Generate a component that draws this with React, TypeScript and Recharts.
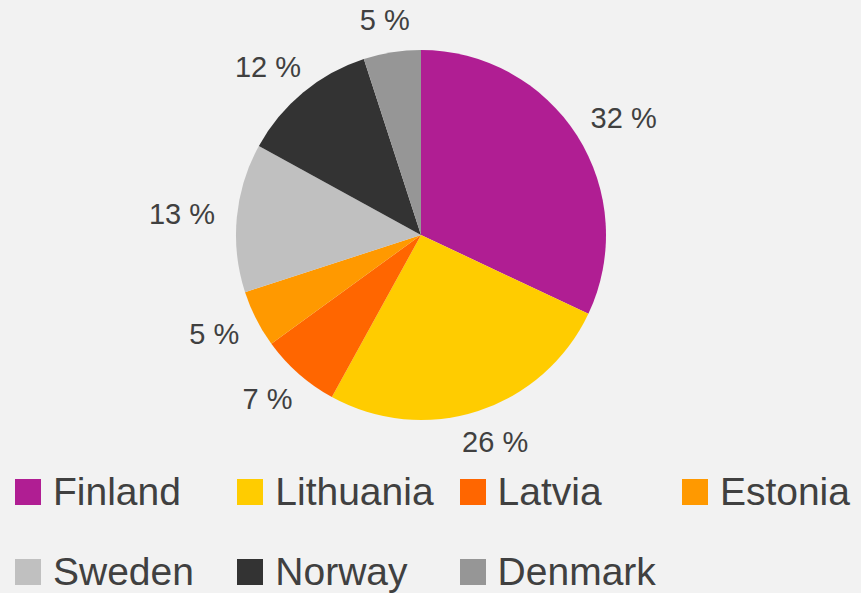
import React from 'react'
import { PieChart, Pie, Cell, Legend } from 'recharts'

const countries = ['Finland', 'Lithuania', 'Latvia', 'Estonia', 'Sweden', 'Norway', 'Denmark']
const shares = [32, 26, 7, 5, 13, 12, 5]
const colors = ['#b01e93', '#ffcc00', '#ff6600', '#ff9900', '#c0c0c0', '#333333', '#969696']

const data = countries.map((name, i) => ({ name, value: shares[i] }))

const RAD = Math.PI / 180
const FONT = '"Liberation Sans", Arial, sans-serif'
const TEXT = '#404040'
const LABEL_SIZE = 29

// label box sits just outside the pie, pushed out by half its own size
const renderLabel = (props: any) => {
  const { cx, cy, midAngle, outerRadius, value } = props
  const txt = `${value} %`
  const w = LABEL_SIZE * (0.556 * String(value).length + 0.278 + 0.889)
  const h = 22
  const cos = Math.cos(-midAngle * RAD)
  const sin = Math.sin(-midAngle * RAD)
  const r0 = outerRadius + 22
  const x = cx + (r0 + w / 2) * cos
  const y = cy + (r0 + h / 2) * sin
  return (
    <text x={x} y={y + 10} textAnchor="middle" fill={TEXT} fontSize={LABEL_SIZE} fontFamily={FONT}>
      {txt}
    </text>
  )
}

const renderLegend = () => (
  <div style={{ display: 'flex', flexWrap: 'wrap', paddingLeft: 15, width: 4 * 222.3 }}>
    {countries.map((name, i) => (
      <div key={name} style={{ position: 'relative', width: 222.3, height: 80 }}>
        <div style={{ position: 'absolute', left: 0, top: 19, width: 26, height: 26, background: colors[i] }} />
        <span style={{
          position: 'absolute', left: 38, top: 11.8, fontSize: 39, lineHeight: '39px',
          fontFamily: FONT, color: TEXT, whiteSpace: 'nowrap',
        }}>
          {name}
        </span>
      </div>
    ))}
  </div>
)

export default function App() {
  return (
    <div style={{ width: 861, height: 593, background: '#f2f2f2', overflow: 'hidden' }}>
      <style>{'body{margin:0}'}</style>
      <PieChart width={861} height={593} margin={{ top: 0, right: 0, bottom: 0, left: 0 }}>
        <Pie
          data={data}
          dataKey="value"
          nameKey="name"
          cx={421}
          cy={235}
          outerRadius={185}
          startAngle={90}
          endAngle={-270}
          stroke="none"
          label={renderLabel}
          labelLine={false}
          isAnimationActive={false}
        >
          {data.map((d, i) => (
            <Cell key={d.name} fill={colors[i]} />
          ))}
        </Pie>
        <Legend
          content={renderLegend}
          wrapperStyle={{ position: 'absolute', left: 0, top: 460, width: 861, height: 133, bottom: 'auto', overflow: 'visible' }}
        />
      </PieChart>
    </div>
  )
}
